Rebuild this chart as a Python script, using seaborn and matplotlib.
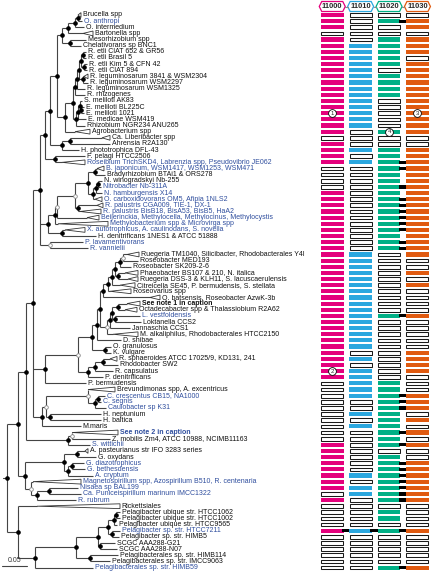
import numpy as np
import matplotlib
matplotlib.use("Agg")
import matplotlib.pyplot as plt
from matplotlib.colors import ListedColormap
from matplotlib.patches import Polygon, Rectangle
import seaborn as sns

# ---------------- data ----------------
taxa = [
    "Brucella spp", "O. anthropi", "O. intermedium", "Bartonella spp", "Mesorhizobium spp",
    "Chelativorans sp BNC1", "R. etli CIAT 652 & GR56", "R. etli Brasil 5", "R. etli Kim 5 & CFN 42",
    "R. etli CIAT 894", "R. leguminosarum 3841 & WSM2304", "R. leguminosarum WSM2297",
    "R. leguminosarum WSM1325", "R. rhizogenes", "S. meliloti AK83", "E. meliloti BL225C",
    "E. meliloti 1021", "E. medicae WSM419", "Rhizobium NGR234 ANU265", "Agrobacterium spp",
    "Ca. Liberibacter spp", "Ahrensia R2A130", "H. phototrophica DFL-43", "F. pelagi HTCC2506",
    "Roseibium TrichSKD4, Labrenzia spp, Pseudovibrio JE062", "B. japonicum, WSM1417, WSM1253, WSM471",
    "Bradyrhizobium BTAi1 & ORS278", "N. winogradskyi Nb-255", "Nitrobacter Nb-311A",
    "N. hamburgensis X14", "O. carboxidovorans OM5, Afipia 1NLS2", "R. palustris CGA009, TIE-1, DX-1",
    "R. palustris BisB18, BisA53, BisB5, HaA2", "Beijerinckia, Methylocella, Methylocinus, Methylocystis",
    "Methylobacterium spp & Microvirga spp", "X. autotrophicus, A. caulinodans, S. novella",
    "H. denitrificans 1NES1 & ATCC 51888", "P. lavamentivorans", "R. vannielii",
    "Ruegeria TM1040, Silicibacter, Rhodobacterales Y4I", "Roseobacter MED193", "Roseobacter SK209-2-6",
    "Phaeobacter BS107 & 210, N. italica", "Ruegeria DSS-3 & KLH11, S. lacuscaerulensis",
    "Citreicella SE45, P. bermudensis, S. stellata", "Roseovarius spp",
    "O. batsensis, Roseobacter AzwK-3b", "See note 1 in caption",
    "Octadecabacter spp & Thalassiobium R2A62", "L. vestfoldensis", "Loktanella CCS2",
    "Jannaschia CCS1", "M. alkaliphilus, Rhodobacterales HTCC2150", "D. shibae", "O. granulosus",
    "K. vulgare", "R. sphaeroides ATCC 17025/9, KD131, 241", "Rhodobacter SW2", "R. capsulatus",
    "P. denitrificans", "P. bermudensis", "Brevundimonas spp, A. excentricus",
    "C. crescentus CB15, NA1000", "C. segnis", "Caulobacter sp K31", "H. neptunium", "H. baltica",
    "M.maris", "See note 2 in caption", "Z. mobilis Zm4, ATCC 10988, NCIMB11163", "S. wittichii",
    "A. pasteurianus str IFO 3283 series", "G. oxydans", "G. diazotrophicus", "G. bethesdensis",
    "A. cryptum", "Magnetospirillum spp, Azospirillum B510, R. centenaria", "Nisaea sp BAL199",
    "Ca. Puniceispirillum marinum IMCC1322", "R. rubrum", "Rickettsiales",
    "Pelagibacter ubique str. HTCC1062", "Pelagibacter ubique str. HTCC1002",
    "Pelagibacter ubique str. HTCC9565", "Pelagibacter sp. str. HTCC7211", "Pelagibacter sp. str. HIMB5",
    "SCGC AAA288-G21", "SCGC AAA288-N07", "Pelagibacterales sp. str. HIMB114",
    "Pelagibacterales sp. str. IMCC9063", "Pelagibacterales sp. str. HIMB59",
]
blue_taxa = [1, 24, 25, 28, 29, 30, 31, 32, 33, 34, 35, 37, 38, 49, 62, 63, 64, 68, 70,
             73, 74, 75, 76, 77, 78, 79, 84, 90]
bold_taxa = [47, 68]

# tree: node -> children (top to bottom) with branch lengths (subst./site); ints are taxa
tree = {
    "root": [("main", 0.022), ("rp", 0.022)],
    "main": [("upper", 0.016), ("rsp", 0.014)],
    "upper": [("n33", 0.014), ("sph", 0.084)],
    "n33": [("rhz", 0.014), ("rbc", 0.024), ("cau", 0.018)],
    # Rhizobiales
    "rhz": [("rb", 0.010), ("h5", 0.016), ("i1", 0.020)],
    "rb": [("ra", 0.010), ("d3", 0.020)],
    "ra": [("c7", 0.014), ("d2", 0.024)],
    "c7": [("a5", 0.010), ("c6", 0.016)],
    "a5": [("a3", 0.012), ("a4", 0.016)],
    "a3": [("a2", 0.014), (3, 0.050)],
    "a2": [("a1", 0.006), (2, 0.018)],
    "a1": [(0, 0.006), (1, 0.008)],
    "a4": [(4, 0.032), (5, 0.022)],
    "c6": [("c5", 0.016), (19, 0.050)],
    "c5": [("b7", 0.004), ("c4", 0.006)],
    "b7": [("b6", 0.004), (13, 0.020)],
    "b6": [("b5", 0.004), (12, 0.016)],
    "b5": [("b3", 0.004), ("b4", 0.008)],
    "b3": [("b1", 0.004), ("b2", 0.006)],
    "b1": [(6, 0.006), (7, 0.006)],
    "b2": [(8, 0.006), (9, 0.006)],
    "b4": [(10, 0.010), (11, 0.010)],
    "c4": [("c3", 0.004), (18, 0.018)],
    "c3": [("c2", 0.004), (17, 0.016)],
    "c2": [(14, 0.004), ("c1", 0.002)],
    "c1": [(15, 0.006), (16, 0.006)],
    "d2": [("d1", 0.016), (22, 0.034)],
    "d1": [(20, 0.080), (21, 0.080)],
    "d3": [(23, 0.060), (24, 0.060)],
    "h5": [("h2", 0.014), ("h4", 0.028)],
    "h2": [("h1", 0.004), (34, 0.106)],
    "h1": [("e4", 0.036), (33, 0.084)],
    "e4": [("e3", 0.026), ("g1", 0.006)],
    "e3": [("e1", 0.014), ("f3", 0.010)],
    "e1": [(25, 0.018), (26, 0.020)],
    "f3": [("f2", 0.006), (30, 0.018)],
    "f2": [("f1", 0.004), (29, 0.012)],
    "f1": [(27, 0.008), (28, 0.006)],
    "g1": [(31, 0.050), (32, 0.046)],
    "h4": [(35, 0.046), (36, 0.068)],
    "i1": [(37, 0.066), (38, 0.076)],
    # Rhodobacterales
    "rbc": [("n5", 0.066), (60, 0.082)],
    "n5": [("m8", 0.028), ("n4", 0.020)],
    "m8": [("m7", 0.010), ("n1", 0.026)],
    "m7": [("m6", 0.006), (53, 0.048)],
    "m6": [("k8", 0.006), ("m5", 0.014)],
    "k8": [("k7", 0.010), (46, 0.114)],
    "k7": [("k6", 0.008), (45, 0.046)],
    "k6": [("k4", 0.006), (44, 0.046)],
    "k4": [("k2", 0.010), ("k3", 0.006)],
    "k2": [("k1", 0.006), (41, 0.022)],
    "k1": [(39, 0.032), (40, 0.030)],
    "k3": [(42, 0.040), (43, 0.040)],
    "m5": [("m4", 0.006), (52, 0.062)],
    "m4": [("m3", 0.004), (51, 0.040)],
    "m3": [("m1", 0.012), ("m2", 0.006)],
    "m1": [(47, 0.044), (48, 0.038)],
    "m2": [(49, 0.050), (50, 0.052)],
    "n1": [(54, 0.012), (55, 0.012)],
    "n4": [("n3", 0.014), (59, 0.030)],
    "n3": [("n2", 0.016), (58, 0.036)],
    "n2": [(56, 0.028), (57, 0.030)],
    # Caulobacterales / Hyphomonadaceae
    "cau": [("p5", 0.008), (67, 0.078)],
    "p5": [("p3", 0.084), ("q1", 0.008)],
    "p3": [(61, 0.054), ("p2", 0.014)],
    "p2": [("p1", 0.006), (64, 0.022)],
    "p1": [(62, 0.014), (63, 0.006)],
    "q1": [(65, 0.102), (66, 0.102)],
    # Sphingomonadales
    "sph": [("r1", 0.008), (70, 0.044)],
    "r1": [(68, 0.092), (69, 0.076)],
    # Rhodospirillales
    "rsp": [("s5", 0.078), ("t3", 0.012)],
    "s5": [("s1", 0.026), ("s4", 0.008)],
    "s1": [(71, 0.022), (72, 0.038)],
    "s4": [("s3", 0.008), (75, 0.050)],
    "s3": [(73, 0.024), (74, 0.026)],
    "t3": [(76, 0.100), ("t2", 0.012)],
    "t2": [("t1", 0.024), (79, 0.078)],
    "t1": [(77, 0.058), (78, 0.064)],
    # Rickettsiales + Pelagibacterales
    "rp": [(80, 0.204), ("pel", 0.034)],
    "pel": [("u1", 0.082), (90, 0.116)],
    "u1": [("v5", 0.044), ("x1", 0.028)],
    "v5": [("v4", 0.020), ("w1", 0.004)],
    "v4": [("v2", 0.012), ("v3", 0.008)],
    "v2": [("v1", 0.004), (83, 0.006)],
    "v1": [(81, 0.008), (82, 0.008)],
    "v3": [(84, 0.016), (85, 0.014)],
    "w1": [(86, 0.030), (87, 0.034)],
    "x1": [(88, 0.056), (89, 0.040)],
}
# collapsed clades (taxon -> length of the wedge)
wedges = {0: 0.006, 3: 0.020, 10: 0.008, 19: 0.030, 20: 0.016, 24: 0.046, 25: 0.014,
          30: 0.014, 31: 0.012, 32: 0.042, 33: 0.024, 34: 0.100, 35: 0.040, 39: 0.024,
          42: 0.026, 43: 0.020, 44: 0.030, 45: 0.042, 46: 0.020, 47: 0.026, 48: 0.024,
          52: 0.050, 56: 0.014, 61: 0.054, 68: 0.092, 71: 0.006, 76: 0.096, 80: 0.166}
open_nodes = ["k1", "e4", "h1", "i1", "m5", "n5", "p3", "p5", "r1", "t3"]

genes = ["11000", "11010", "11020", "11030"]
gene_colors = ["#E4007C", "#2AA7DF", "#00B086", "#E05A10"]
gene_11000 = ("1110111111" "1111111111" "0111100001" "1111111111" "1111111111"
              "1111111111" "0000000000" "1111111101" "00001000000")
gene_11010 = ("0000011111" "1111111110" "0010100000" "0000000001" "1111111111"
              "1111101011" "1110010100" "0000010110" "00001000000")
gene_11020 = ("0100111110" "1111000001" "0011111111" "1111111110" "0000000001"
              "0000000000" "1111111111" "1011111111" "01101000001")
gene_11030 = ("0110111011" "1111111111" "0011111111" "1111111111" "0010100001"
              "0000011110" "0011101010" "1001111111" "00001000001")
# rows (1-based) where neighbouring genes are fused
fused_11020_11030 = [2, 25, 26, 29, 31, 32, 33, 34, 35, 36, 38, 39, 50, 63, 64, 65,
                     69, 71, 74, 75, 76, 77, 78, 79, 80, 85, 91]
fused_all = [85]
notes = [(17, 0, "1"), (59, 0, "2"), (17, 3, "3"), (20, 2, "4")]
scale_value = 0.05

# ---------------- drawing ----------------
sns.set_theme(style="white")
plt.rcParams["font.family"] = ["Liberation Sans", "DejaVu Sans"]

W, H = 434, 571
X0, PX = 7, 500          # root position, pixels per subst./site
Y0, DY = 15.0, 6.14      # first row centre, row spacing
HX0, HDX, HW = 320, 28.4, 24.5
LINE = "#444444"
BLUE = "#2F4E9E"
FS = 5.0
n = len(taxa)

fig = plt.figure(figsize=(W / 100, H / 100), dpi=100)

gene_cols = [gene_11000, gene_11010, gene_11020, gene_11030]
for k, (col, color) in enumerate(zip(gene_cols, gene_colors)):
    vals = np.array([int(c) for c in col])[:, None]
    cax = fig.add_axes([(HX0 + k * HDX) / W, 1 - (Y0 + (n - 0.5) * DY) / H,
                        HW / W, n * DY / H])
    sns.heatmap(vals, mask=vals == 0, cmap=ListedColormap([color]), vmin=0, vmax=1,
                cbar=False, linewidths=1.3, linecolor="white",
                xticklabels=False, yticklabels=False, ax=cax)
    for i in np.flatnonzero(vals[:, 0] == 0):
        cax.add_patch(Rectangle((0.05, i + 0.2), 0.9, 0.6, fc="white", ec="#1a1a1a", lw=0.75))
    cax.set_axis_off()

ax = fig.add_axes([0, 0, 1, 1])
ax.set_xlim(0, W)
ax.set_ylim(H, 0)
ax.axis("off")

pos = {}


def place(node, x):
    if isinstance(node, int):
        pos[node] = (x, Y0 + node * DY)
        return pos[node][1]
    ys = [place(child, x + length * PX) for child, length in tree[node]]
    pos[node] = (x, (ys[0] + ys[-1]) / 2)
    return pos[node][1]


place("root", X0)

ax.plot([X0 - 4, X0], [pos["root"][1]] * 2, color=LINE, lw=0.8)
for node, kids in tree.items():
    x, y = pos[node]
    ys = [pos[c][1] for c, _ in kids]
    ax.plot([x, x], [min(ys), max(ys)], color=LINE, lw=0.8, solid_capstyle="butt")
    for c, _ in kids:
        cx, cy = pos[c]
        if isinstance(c, int) and c in wedges:
            xs = cx - wedges[c] * PX
            ax.plot([x, xs], [cy, cy], color=LINE, lw=0.8, solid_capstyle="butt")
            ax.add_patch(Polygon([(xs, cy), (cx, cy - 2.4), (cx, cy + 2.4)], closed=True,
                                 fc="white", ec="#333333", lw=0.6, zorder=3))
        else:
            ax.plot([x, cx], [cy, cy], color=LINE, lw=0.8, solid_capstyle="butt")
for node in tree:
    x, y = pos[node]
    if node in open_nodes:
        ax.plot(x, y, "o", ms=2.6, mfc="white", mec="#888888", mew=0.6, zorder=4)
    else:
        ax.plot(x, y, "o", ms=2.3, color="black", zorder=4)

for i, name in enumerate(taxa):
    x, y = pos[i]
    ax.text(x + 1.8, y, name, fontsize=FS, ha="left", va="center",
            color=BLUE if i in blue_taxa else "#111111",
            fontweight="bold" if i in bold_taxa else "normal")

# scale bar
ax.plot([2, 2 + scale_value * PX], [566, 566], color=LINE, lw=0.8)
ax.text(2 + scale_value * PX / 2, 564, f"{scale_value:.2f}", fontsize=FS,
        ha="center", va="bottom", color="#333333")

# gene headers
for k, (g, color) in enumerate(zip(genes, gene_colors)):
    cx, cy = HX0 + k * HDX + HW / 2, 6.5
    hexagon = [(cx - 13, cy), (cx - 10.5, cy - 5), (cx + 10.5, cy - 5),
               (cx + 13, cy), (cx + 10.5, cy + 5), (cx - 10.5, cy + 5)]
    ax.add_patch(Polygon(hexagon, closed=True, fc="white", ec=color, lw=0.9))
    ax.text(cx, cy + 0.3, g, fontsize=5.4, fontweight="bold", ha="center", va="center")
    if k < len(genes) - 1:
        ax.plot([cx + 13, cx + HDX - 13], [cy, cy], color="#888888", lw=0.8)

# fusion connectors
for r in fused_11020_11030:
    y = Y0 + (r - 1) * DY
    ax.add_patch(Rectangle((HX0 + 2 * HDX + HW - 2.5, y - 1.6), HDX - HW + 3.5, 3.2,
                           fc="black", ec="none"))
for r in fused_all:
    y = Y0 + (r - 1) * DY
    for k in range(2):
        ax.add_patch(Rectangle((HX0 + k * HDX + HW - 2.5, y - 1.6), HDX - HW + 3.5, 3.2,
                               fc="black", ec="none"))

# numbered notes
for r, k, t in notes:
    cx, cy = HX0 + k * HDX + HW / 2, Y0 + (r - 1) * DY
    ax.plot(cx, cy, "o", ms=5.6, mfc="white", mec="black", mew=0.6, zorder=5)
    ax.text(cx, cy + 0.2, t, fontsize=4.3, ha="center", va="center", zorder=6)

fig.savefig("out.png", dpi=100)
